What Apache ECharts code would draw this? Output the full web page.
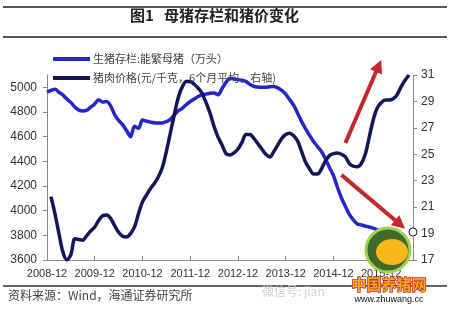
<!DOCTYPE html>
<html>
<head>
<meta charset="utf-8">
<script src="https://cdn.jsdelivr.net/npm/echarts@6/dist/echarts.min.js"></script>
<style>
html,body{margin:0;padding:0;background:#fff;}
#chart{width:450px;height:310px;}
</style>
</head>
<body>
<div id="chart"></div>
<script>
// ---- data ----
const seriesNames = ['生猪存栏:能繁母猪（万头）', '猪肉价格(元/千克，6个月平均，右轴)'];
const xTickLabels = ['2008-12','2009-12','2010-12','2011-12','2012-12','2013-12','2014-12','2015-12'];
const leftTicks = [3600, 3800, 4000, 4200, 4400, 4600, 4800, 5000];
const rightTicks = [17, 19, 21, 23, 25, 27, 29, 31];

// monthly categories 2008-12 .. 2016-08
const months = [];
(function(){ let y = 2008, m = 12; while (!(y === 2016 && m === 9)) { months.push(y + '-' + String(m).padStart(2,'0')); m++; if (m > 12) { m = 1; y++; } } })();

// 能繁母猪存栏（万头）, monthly from 2008-12
const sowStock = [
 4960,4975,4985,4960,4938,4905,4878,4840,4815,4808,4815,4840,4865,4900,4880,4885,
 4850,4780,4732,4698,4650,4600,4685,4668,4735,4725,4718,4712,4710,4711,4722,4740,
 4775,4810,4830,4860,4885,4905,4925,4940,4945,4952,4955,4940,4990,5040,5074,5068,
 5062,5058,5048,5025,5008,5002,5000,5000,5004,5006,4995,4975,4945,4900,4855,4790,
 4722,4665,4610,4560,4520,4480,4420,4350,4285,4190,4105,4035,3970,3925,3892,3885,
 3875,3868,3858,3843,3828,3812,3800,3790,3782,3770,3755,3748
];
// 猪肉价格（元/千克，6个月平均）, monthly from 2008-12
const porkPrice = [
 null,21.8,20.5,19.0,17.6,17.0,17.4,18.6,18.55,18.5,18.85,19.2,19.5,20.0,20.35,20.4,
 20.15,19.6,19.1,18.8,18.75,19.0,19.5,20.5,21.4,21.9,22.4,22.8,23.3,24.0,25.2,26.6,
 28.0,29.3,30.1,30.5,30.5,30.3,30.0,29.6,28.9,28.1,27.1,26.3,25.7,25.05,24.95,25.1,
 25.4,25.9,26.5,26.5,26.2,25.8,25.4,25.0,24.8,25.2,25.7,26.2,26.5,26.6,26.4,26.0,
 25.2,24.4,23.9,23.5,23.5,23.9,24.5,24.9,25.05,25.1,25.0,24.8,24.3,24.1,24.05,24.3,
 25.0,26.3,27.6,28.5,28.9,29.1,29.1,29.2,29.5,30.1,30.6,31.0
];
// annotation arrows, in (month index, left-axis value) space
const arrowAnnotations = [
  {from:[74.6, 4549], to:[83.9, 5222]},
  {from:[74.0, 4290], to:[89.5, 3855]}
];

// right axis drawn on an offset scale starting at 0 (so ticks align from min)
const rightBase = rightTicks[0];
const rightTop = rightTicks[rightTicks.length - 1];

const chart = echarts.init(document.getElementById('chart'), null, {renderer:'canvas'});
const axisColor = '#8a8a8a';
const labelColor = '#333';

const option = {
  backgroundColor:'#fff',
  animation:false,
  grid:{left:47, right:37, top:75, bottom:50, containLabel:false},
  legend:{
    orient:'vertical', left:48, top:47, itemWidth:37, itemHeight:4, itemGap:5, icon:'rect',
    data:seriesNames,
    textStyle:{fontFamily:'"Noto Sans CJK SC"', fontSize:11, color:'#444', lineHeight:14, padding:[0,0,0,-2]}
  },
  xAxis:{
    type:'category', data:months, boundaryGap:false,
    axisLine:{lineStyle:{color:axisColor, width:1}},
    axisTick:{inside:true, length:4, lineStyle:{color:axisColor},
      interval:function(i, v){ return xTickLabels.indexOf(v) >= 0; }},
    axisLabel:{interval:function(i, v){ return xTickLabels.indexOf(v) >= 0; },
      fontFamily:'"Liberation Sans", Arial', fontSize:11, color:labelColor, margin:8},
    splitLine:{show:false}
  },
  yAxis:[
    {type:'value', min:leftTicks[0], max:5100, interval:200, position:'left',
     axisLine:{show:true, lineStyle:{color:axisColor}},
     axisTick:{show:true, length:4, lineStyle:{color:axisColor}},
     axisLabel:{showMaxLabel:false, fontFamily:'"Liberation Sans", Arial', fontSize:12, color:labelColor, margin:10,
       formatter:function(v){ return leftTicks.indexOf(v) >= 0 ? String(v) : ''; }},
     splitLine:{show:false}},
    {type:'value', min:0, max:rightTop - rightBase, interval:2, position:'right',
     axisLine:{show:true, lineStyle:{color:axisColor}},
     axisTick:{show:true, length:4, lineStyle:{color:axisColor}},
     axisLabel:{fontFamily:'"Liberation Sans", Arial', fontSize:12, color:labelColor, margin:8,
       formatter:function(v){ return String(v + rightBase); }},
     splitLine:{show:false}}
  ],
  series:[
    {name:seriesNames[0], type:'line', yAxisIndex:0, data:sowStock, showSymbol:false, symbol:'none', smooth:0.3,
     lineStyle:{color:'#2626c8', width:3.5}, itemStyle:{color:'#2626c8'}, z:2},
    {name:seriesNames[1], type:'line', yAxisIndex:1,
     data:porkPrice.map(function(v){ return v == null ? null : v - rightBase; }),
     showSymbol:false, symbol:'none', smooth:0.3,
     lineStyle:{color:'#15155a', width:3.5}, itemStyle:{color:'#15155a'}, z:3}
  ]
};
chart.setOption(option);

// ---- decorations: rules, title, source, arrows, watermark ----
const g = [];
g.push({type:'line', shape:{x1:3,y1:7,x2:447,y2:7}, style:{stroke:'#555', lineWidth:2}});
g.push({type:'line', shape:{x1:3,y1:37,x2:447,y2:37}, style:{stroke:'#555', lineWidth:2}});
g.push({type:'line', shape:{x1:3,y1:286,x2:447,y2:286}, style:{stroke:'#666', lineWidth:2}});
g.push({type:'text', x:130, y:15, style:{text:'图1   母猪存栏和猪价变化', font:'bold 15px "Noto Sans CJK SC"', fill:'#222', textVerticalAlign:'middle'}});
g.push({type:'text', x:8, y:295, style:{text:'资料来源：Wind，海通证券研究所', font:'12px "Noto Sans CJK SC"', fill:'#444', textVerticalAlign:'middle'}});
g.push({type:'text', x:262, y:291, style:{text:'微信号: jian', font:'12px "Noto Sans CJK SC"', fill:'#cfcfcf', textVerticalAlign:'middle'}});

arrowAnnotations.forEach(function(a){
  const p0 = chart.convertToPixel({xAxisIndex:0, yAxisIndex:0}, a.from);
  const p1 = chart.convertToPixel({xAxisIndex:0, yAxisIndex:0}, a.to);
  const dx = p1[0]-p0[0], dy = p1[1]-p0[1], L = Math.sqrt(dx*dx+dy*dy);
  const ux = dx/L, uy = dy/L, head = 13, hw = 6.5;
  const bx = p1[0]-ux*head, by = p1[1]-uy*head;
  g.push({type:'line', shape:{x1:p0[0],y1:p0[1],x2:bx+ux*2,y2:by+uy*2}, style:{stroke:'#c4282a', lineWidth:4}, z:50});
  g.push({type:'polygon', shape:{points:[[p1[0],p1[1]],[bx-uy*hw,by+ux*hw],[bx+uy*hw,by-ux*hw]]}, style:{fill:'#c4282a'}, z:50});
});

// logo watermark
g.push({type:'circle', shape:{cx:388, cy:250, r:22}, style:{fill:'#3d6b2a', stroke:'#a5cf4c', lineWidth:3}, z:60});
g.push({type:'ellipse', shape:{cx:392, cy:252, rx:16, ry:13}, style:{fill:'#f7b81c'}, z:61});
g.push({type:'circle', shape:{cx:413, cy:232, r:4}, style:{fill:'#fff', stroke:'#222', lineWidth:1}, z:61});
g.push({type:'text', x:389, y:284, style:{text:'中国养猪网', font:'bold 15px "Noto Sans CJK SC"', fill:'#f4a81c', stroke:'#c0302a', lineWidth:1.5, textAlign:'center', textVerticalAlign:'middle'}, z:62});
g.push({type:'text', x:389, y:300, style:{text:'www.zhuwang.cc', font:'9px "Liberation Sans", Arial', fill:'#111', textAlign:'center', textVerticalAlign:'middle'}, z:62});

chart.setOption({graphic:g});
</script>
</body>
</html>
